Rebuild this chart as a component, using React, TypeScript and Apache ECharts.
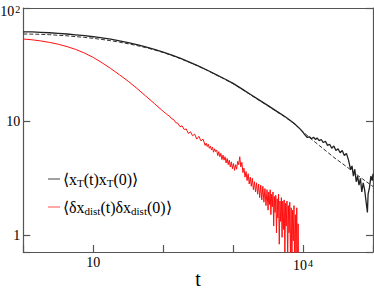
import React, { useEffect, useRef } from "react";
import * as echarts from "echarts";

const blackLogT = [
  0, 0.125, 0.25, 0.375, 0.5, 0.625, 0.75, 0.875, 1.0, 1.125, 1.25, 1.375, 1.5, 1.625, 1.75, 1.875,
  2.0, 2.125, 2.25, 2.375, 2.5, 2.625, 2.75, 2.875, 3.0, 3.125, 3.25, 3.375, 3.5, 3.625, 3.75, 3.87,
  3.95, 4.0, 4.03, 4.06, 4.09, 4.12, 4.15, 4.18, 4.2, 4.23, 4.26, 4.29, 4.32, 4.35, 4.38, 4.41, 4.44,
  4.47, 4.5, 4.53, 4.56, 4.59, 4.62, 4.65, 4.68, 4.7, 4.72, 4.74, 4.76, 4.78, 4.8, 4.82, 4.84, 4.86,
  4.88, 4.9, 4.92, 4.93, 4.95, 4.97, 4.99, 5.0,
];
const blackLogY = [
  1.79, 1.789, 1.786, 1.782, 1.777, 1.771, 1.764, 1.756, 1.747, 1.737, 1.725, 1.711, 1.696, 1.678, 1.658, 1.636,
  1.612, 1.585, 1.556, 1.524, 1.49, 1.454, 1.416, 1.377, 1.336, 1.288, 1.238, 1.189, 1.14, 1.09, 1.04, 0.985,
  0.94, 0.905, 0.88, 0.86, 0.866, 0.848, 0.862, 0.842, 0.856, 0.832, 0.842, 0.815, 0.826, 0.79, 0.8, 0.765, 0.785,
  0.745, 0.76, 0.725, 0.745, 0.7, 0.72, 0.66, 0.575, 0.61, 0.52, 0.58, 0.47, 0.52, 0.44, 0.5, 0.38, 0.46,
  0.4, 0.3, 0.2, 0.36, 0.42, 0.52, 0.48, 0.54,
];

const fitLogT = [
  0, 0.125, 0.25, 0.375, 0.5, 0.625, 0.75, 0.875, 1.0, 1.125, 1.25, 1.375, 1.5, 1.625, 1.75, 1.875,
  2.0, 2.125, 2.25, 2.375, 2.5, 2.625, 2.75, 2.875, 3.0, 3.125, 3.25, 3.375, 3.5, 3.625, 3.75, 3.87,
  4.0, 4.1, 4.23, 4.35, 4.44, 4.55, 4.66, 4.75, 4.85, 5.0,
];
const fitLogY = [
  1.771, 1.77, 1.768, 1.765, 1.76, 1.755, 1.748, 1.741, 1.733, 1.723, 1.712, 1.699, 1.685, 1.669, 1.651, 1.631,
  1.608, 1.582, 1.553, 1.522, 1.488, 1.452, 1.413, 1.374, 1.333, 1.285, 1.235, 1.186, 1.137, 1.087, 1.037, 0.982,
  0.91, 0.855, 0.79, 0.73, 0.685, 0.635, 0.585, 0.54, 0.495, 0.428,
];

const redLogT = [
  0, 0.125, 0.25, 0.375, 0.5, 0.625, 0.75, 0.875, 1.0, 1.125, 1.25, 1.375, 1.5, 1.625, 1.75, 1.875,
  2.0, 2.03, 2.06, 2.09, 2.12, 2.15, 2.18, 2.21, 2.24, 2.27, 2.3, 2.33, 2.36, 2.39, 2.42, 2.45, 2.48,
  2.51, 2.54, 2.57,
  2.6, 2.615, 2.63, 2.645, 2.66, 2.675, 2.69, 2.705, 2.72, 2.735, 2.75, 2.765, 2.78, 2.795, 2.81, 2.825,
  2.84, 2.855, 2.87, 2.885, 2.9, 2.915, 2.93, 2.945, 2.96, 2.975, 2.99, 3.005, 3.02, 3.035, 3.05, 3.065,
  3.08, 3.095, 3.11, 3.125, 3.14, 3.155, 3.17, 3.185, 3.2, 3.215, 3.23, 3.245, 3.26, 3.275, 3.29, 3.305,
  3.32, 3.335, 3.35, 3.365, 3.38, 3.395, 3.41, 3.425, 3.44, 3.455, 3.47, 3.485,
  3.5, 3.51, 3.52, 3.53, 3.54, 3.55, 3.56, 3.57, 3.58, 3.59, 3.6, 3.61, 3.62, 3.63, 3.64, 3.65, 3.66,
  3.67, 3.68, 3.69, 3.7, 3.71, 3.72, 3.73, 3.74, 3.75, 3.76, 3.77, 3.78, 3.79, 3.8, 3.81, 3.82, 3.83,
  3.84, 3.85, 3.86, 3.87, 3.88, 3.89, 3.9, 3.91, 3.92, 3.93, 3.935,
];
const redLogY = [
  1.727, 1.72, 1.71, 1.697, 1.681, 1.66, 1.635, 1.603, 1.565, 1.518, 1.467, 1.412, 1.355, 1.292, 1.225, 1.158,
  1.09, 1.075, 1.06, 1.048, 1.025, 1.018, 0.99, 0.985, 0.955, 0.962, 0.93, 0.935, 0.895, 0.91, 0.875, 0.89, 0.845,
  0.87, 0.83, 0.845,
  0.79, 0.81, 0.78, 0.8, 0.765, 0.785, 0.75, 0.775, 0.73, 0.76, 0.735, 0.75, 0.7, 0.735, 0.69, 0.72,
  0.665, 0.705, 0.66, 0.69, 0.635, 0.675, 0.62, 0.66, 0.6, 0.645, 0.585, 0.63, 0.57, 0.62, 0.58, 0.65,
  0.62, 0.69, 0.6, 0.64, 0.55, 0.59, 0.51, 0.56, 0.48, 0.54, 0.45, 0.51, 0.43, 0.5, 0.4, 0.47,
  0.38, 0.46, 0.36, 0.45, 0.33, 0.44, 0.31, 0.43, 0.29, 0.41, 0.26, 0.4,
  0.22, 0.38, 0.27, 0.4, 0.18, 0.36, 0.25, 0.38, 0.08, 0.34, 0.2, 0.35, 0.02, 0.32, 0.15, 0.36, -0.08,
  0.3, 0.12, 0.33, -0.02, 0.3, 0.05, 0.31, -0.15, 0.28, 0.08, 0.3, -0.22, 0.26, 0.02, 0.29, -0.18, 0.24,
  -0.3, 0.22, -0.05, 0.26, -0.3, 0.18, -0.2, 0.24, -0.3, 0.1, -0.3,
];

const xLabelExponents = [1, 4];
const yLabelExponents = [0, 1, 2];
const xRange = [1, 100000];
const yRange = [0.71, 100];
const legendTexts = [
  "{m|⟨x}{sub|T}{m|(t)x}{sub|T}{m|(0)⟩}",
  "{m|⟨δx}{sub|dist}{m|(t)δx}{sub|dist}{m|(0)⟩}",
];

const toPairs = (lt: number[], ly: number[]) => lt.map((v, i) => [Math.pow(10, v), Math.pow(10, ly[i])]);

const SERIF = "Liberation Serif";
const AXIS_COLOR = "#555";

export default function App() {
  const ref = useRef<HTMLDivElement>(null);
  useEffect(() => {
    const chart = echarts.init(ref.current!, null, { renderer: "svg" });
    const expOf = (v: number) => Math.round(Math.log10(v) * 1000) / 1000;
    const xFormatter = (v: number) => {
      const e = expOf(v);
      if (!xLabelExponents.includes(e)) return "";
      if (e === 1) return "{a|10}";
      return "{b|10}{s|" + e + "}";
    };
    const yFormatter = (v: number) => {
      const e = expOf(v);
      if (!yLabelExponents.includes(e)) return "";
      if (e === 0) return "{a|1}";
      if (e === 1) return "{a|10}";
      return "{b|10}{s|" + e + "}";
    };
    const lineStyle = { color: AXIS_COLOR, width: 1.2 };
    const tokenA = { fontFamily: SERIF, fontSize: 14, lineHeight: 14, color: "#000" };
    chart.setOption({
      animation: false,
      textStyle: { fontFamily: SERIF },
      grid: {
        left: 23.3,
        right: 1,
        top: 8,
        bottom: 36,
        containLabel: false,
        outerBoundsMode: "none",
      },
      xAxis: [
        {
          type: "log",
          logBase: 10,
          min: xRange[0],
          max: xRange[1],
          position: "bottom",
          name: "t",
          nameLocation: "middle",
          nameGap: 19,
          nameMoveOverlap: false,
          nameTextStyle: { fontFamily: SERIF, fontSize: 20, lineHeight: 16, color: "#000" },
          axisLine: { show: true, lineStyle },
          axisTick: { show: true, inside: true, length: 7, lineStyle },
          splitLine: { show: false },
          minorTick: { show: false },
          axisLabel: {
            show: true,
            margin: 3,
            formatter: xFormatter,
            color: "#000",
            fontFamily: SERIF,
            fontSize: 14,
            rich: {
              a: tokenA,
              b: { ...tokenA, padding: [6, 0, 0, 0] },
              s: { fontFamily: SERIF, fontSize: 10, lineHeight: 10, padding: [3, 0, 0, 1], verticalAlign: "top", color: "#000" },
            },
          },
        },
        {
          type: "log",
          logBase: 10,
          min: xRange[0],
          max: xRange[1],
          position: "top",
          axisLine: { show: true, lineStyle },
          axisTick: { show: false },
          axisLabel: { show: false },
          splitLine: { show: false },
        },
      ],
      yAxis: [
        {
          type: "log",
          logBase: 10,
          min: yRange[0],
          max: yRange[1],
          position: "left",
          axisLine: { show: true, lineStyle },
          axisTick: { show: true, inside: true, length: 7, lineStyle },
          splitLine: { show: false },
          minorTick: { show: false },
          axisLabel: {
            show: true,
            margin: 3,
            formatter: yFormatter,
            color: "#000",
            fontFamily: SERIF,
            fontSize: 14,
            rich: {
              a: tokenA,
              b: { ...tokenA, padding: [7, 0, 0, 0] },
              s: { fontFamily: SERIF, fontSize: 10, lineHeight: 10, padding: [3, 0, 0, 1], verticalAlign: "top", color: "#000" },
            },
          },
        },
        {
          type: "log",
          logBase: 10,
          min: yRange[0],
          max: yRange[1],
          position: "right",
          axisLine: { show: true, lineStyle },
          axisTick: { show: true, inside: true, length: 7, lineStyle },
          axisLabel: { show: false },
          splitLine: { show: false },
        },
      ],
      series: [
        {
          type: "line",
          name: "fit",
          xAxisIndex: 0,
          yAxisIndex: 0,
          data: toPairs(fitLogT, fitLogY),
          showSymbol: false,
          symbol: "none",
          clip: true,
          lineStyle: { color: "#333", width: 1, type: [4, 2] },
          z: 2,
        },
        {
          type: "line",
          name: "xT",
          xAxisIndex: 0,
          yAxisIndex: 0,
          data: toPairs(blackLogT, blackLogY),
          showSymbol: false,
          symbol: "none",
          clip: true,
          lineStyle: { color: "#222", width: 1.3 },
          z: 3,
        },
        {
          type: "line",
          name: "dist",
          xAxisIndex: 0,
          yAxisIndex: 0,
          data: toPairs(redLogT, redLogY),
          showSymbol: false,
          symbol: "none",
          clip: true,
          lineStyle: { color: "#ff1010", width: 1 },
          z: 3,
        },
      ],
      graphic: [
        {
          type: "line",
          shape: { x1: 48, y1: 179, x2: 60, y2: 179 },
          style: { stroke: "#808080", lineWidth: 1.5 },
        },
        {
          type: "line",
          shape: { x1: 48, y1: 207, x2: 60, y2: 207 },
          style: { stroke: "#ff5050", lineWidth: 1 },
        },
        ...legendTexts.map((t, i) => ({
          type: "text",
          x: 63,
          y: 179 + i * 28,
          style: {
            text: t,
            fontFamily: SERIF,
            fontSize: 16,
            fill: "#000",
            verticalAlign: "middle",
            align: "left",
            rich: {
              m: { fontFamily: SERIF, fontSize: 16, lineHeight: 16 },
              sub: { fontFamily: SERIF, fontSize: 11, lineHeight: 11, padding: [8, 0, 0, 0] },
            },
          },
        })),
      ],
    });
    return () => chart.dispose();
  }, []);
  return (
    <div
      ref={ref}
      style={{ position: "fixed", left: 0, top: 0, width: 374, height: 288, background: "#fff" }}
    />
  );
}
